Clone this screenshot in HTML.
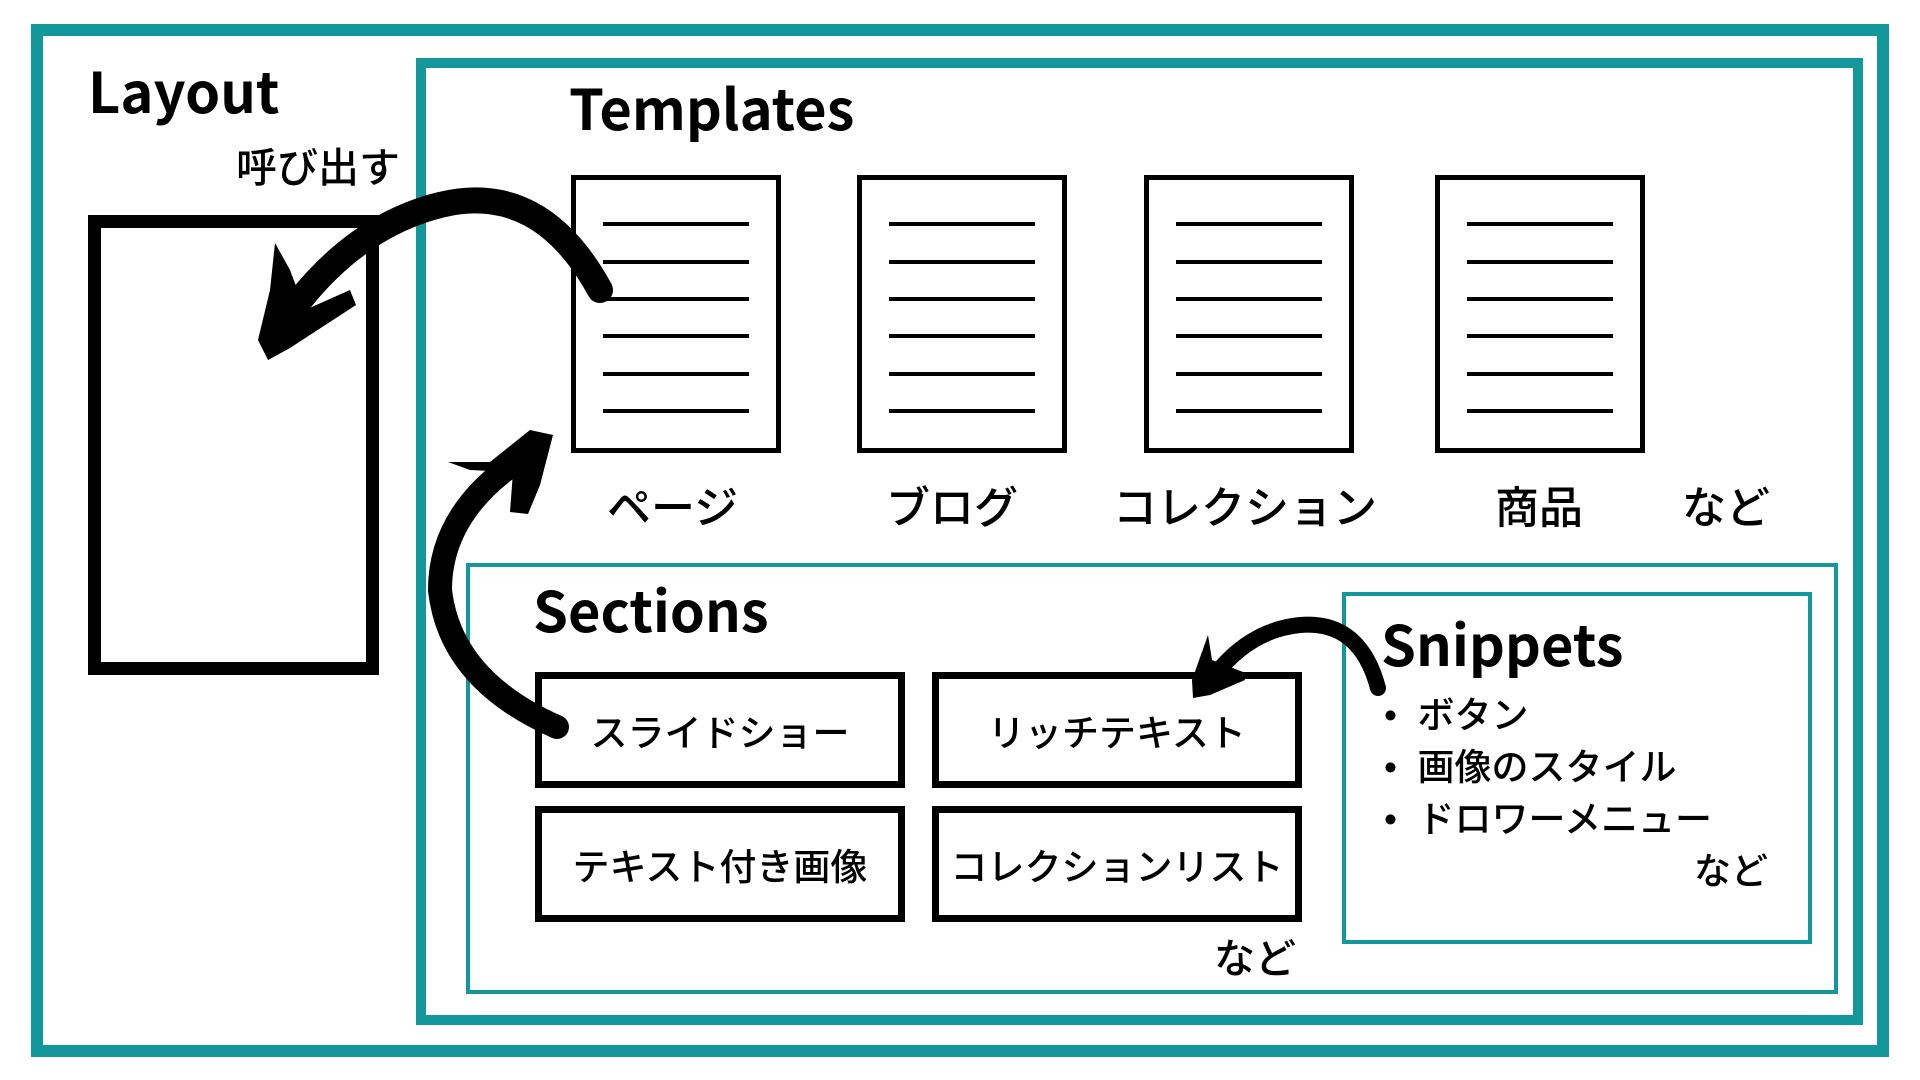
<!DOCTYPE html>
<html><head><meta charset="utf-8"><style>
html,body{margin:0;padding:0;background:#fff;}
body{width:1920px;height:1080px;position:relative;overflow:hidden;font-family:"Liberation Sans","Noto Sans CJK JP",sans-serif;color:#000;}
.b{position:absolute;box-sizing:border-box;}
.t{position:absolute;white-space:nowrap;line-height:1;}
.h{font-weight:bold;font-size:56px;font-family:"Noto Sans CJK JP","Liberation Sans",sans-serif;}
.j{font-family:"Liberation Sans","Noto Sans CJK JP",sans-serif;font-weight:500;}
.doc{position:absolute;box-sizing:border-box;border:5px solid #000;width:210px;height:278px;top:175px;}
.doc i{position:absolute;left:27px;width:146px;height:4px;background:#000;}
.sb{position:absolute;box-sizing:border-box;border:7px solid #000;width:370px;height:116px;font-size:37px;font-weight:500;display:flex;align-items:center;justify-content:center;font-family:"Liberation Sans","Noto Sans CJK JP",sans-serif;}
</style></head><body>
<div class="b" style="left:31px;top:24px;width:1858px;height:1033px;border:12px solid #13979a;"></div>
<div class="b" style="left:416px;top:58px;width:1447px;height:967px;border:10px solid #13979a;"></div>
<div class="b" style="left:466px;top:563px;width:1372px;height:431px;border:4px solid #13979a;"></div>
<div class="b" style="left:1342px;top:592px;width:470px;height:352px;border:4px solid #13979a;"></div>
<div class="b" style="left:88px;top:215px;width:291px;height:460px;border:13px solid #000;"></div>

<div class="t h" style="left:88px;top:62px;">Layout</div>
<div class="t h" style="left:569px;top:79px;">Templates</div>
<div class="t h" style="left:533px;top:581px;">Sections</div>
<div class="t h" style="left:1381px;top:615px;">Snippets</div>
<div class="t j" style="left:236px;top:148px;font-size:41px;">呼び出す</div>

<div class="doc" style="left:571px;"><i style="top:42px"></i><i style="top:80px"></i><i style="top:117px"></i><i style="top:154px"></i><i style="top:192px"></i><i style="top:229px"></i></div>
<div class="doc" style="left:857px;"><i style="top:42px"></i><i style="top:80px"></i><i style="top:117px"></i><i style="top:154px"></i><i style="top:192px"></i><i style="top:229px"></i></div>
<div class="doc" style="left:1144px;"><i style="top:42px"></i><i style="top:80px"></i><i style="top:117px"></i><i style="top:154px"></i><i style="top:192px"></i><i style="top:229px"></i></div>
<div class="doc" style="left:1435px;"><i style="top:42px"></i><i style="top:80px"></i><i style="top:117px"></i><i style="top:154px"></i><i style="top:192px"></i><i style="top:229px"></i></div>

<div class="t j" style="left:607px;top:487px;font-size:44px;">ページ</div>
<div class="t j" style="left:886px;top:487px;font-size:44px;">ブログ</div>
<div class="t j" style="left:1113px;top:487px;font-size:44px;">コレクション</div>
<div class="t j" style="left:1495px;top:487px;font-size:44px;">商品</div>
<div class="t j" style="left:1682px;top:487px;font-size:44px;">など</div>

<div class="sb" style="left:535px;top:672px;">スライドショー</div>
<div class="sb" style="left:932px;top:672px;">リッチテキスト</div>
<div class="sb" style="left:535px;top:806px;">テキスト付き画像</div>
<div class="sb" style="left:932px;top:806px;">コレクションリスト</div>
<div class="t j" style="left:1214px;top:939px;font-size:41px;">など</div>

<div class="t j" style="left:1384px;top:697px;font-size:37px;">•&nbsp;&nbsp;ボタン</div>
<div class="t j" style="left:1384px;top:749px;font-size:37px;">•&nbsp;&nbsp;画像のスタイル</div>
<div class="t j" style="left:1384px;top:801px;font-size:37px;">•&nbsp;&nbsp;ドロワーメニュー</div>
<div class="t j" style="left:1694px;top:853px;font-size:37px;">など</div>

<svg width="1920" height="1080" style="position:absolute;left:0;top:0;">
<path d="M600,290 Q540,180 440,205 Q360,225 300,300" fill="none" stroke="#000" stroke-width="26" stroke-linecap="round"/>
<polygon points="275,243 290,270 305,310 350,290 356,305 290,348 268,360 258,340 270,290" fill="#000"/>
<path d="M557,727 Q450,680 440,590 Q440,520 505,470" fill="none" stroke="#000" stroke-width="24" stroke-linecap="round"/>
<polygon points="448,462 490,462 530,430 553,435 540,485 528,514 510,512 513,472 470,470" fill="#000"/>
<path d="M1378,688 Q1360,620 1300,625 Q1250,630 1215,675" fill="none" stroke="#000" stroke-width="16" stroke-linecap="round"/>
<polygon points="1208,635 1212,660 1243,672 1245,680 1210,695 1193,698 1192,680" fill="#000"/>
</svg>
</body></html>
